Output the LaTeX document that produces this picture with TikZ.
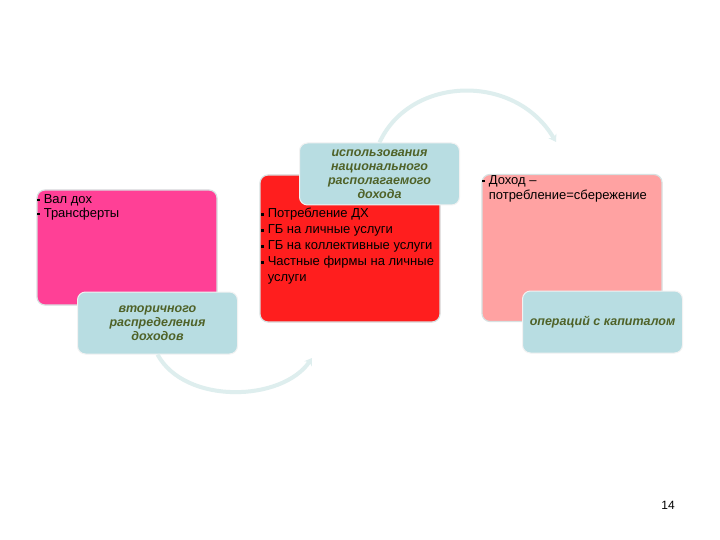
\documentclass[tikz,border=0pt]{standalone}
\usepackage{fontspec}
\setmainfont{Liberation Sans}
\usetikzlibrary{calc,positioning,arrows.meta}

\definecolor{pinkfill}{RGB}{255,64,150}
\definecolor{redfill}{RGB}{255,30,30}
\definecolor{salmonfill}{RGB}{255,162,162}
\definecolor{labelfill}{RGB}{184,221,226}
\definecolor{labeltext}{RGB}{79,98,40}
\definecolor{arcline}{RGB}{222,238,238}
\definecolor{boxedge}{RGB}{215,225,225}

\newcommand{\sqbul}{\rule[0.25ex]{2.6pt}{2.6pt}\hspace{4pt}}

\tikzset{
  bigbox/.style={rectangle,rounded corners=8pt,draw=boxedge,line width=1.2pt,
    minimum width=180pt,minimum height=147pt,inner sep=0pt},
  labelbox/.style={rectangle,rounded corners=8pt,fill=labelfill,draw=white!90!gray,
    line width=1pt,minimum width=160pt,minimum height=62pt,inner sep=2pt,
    align=center,text=labeltext,font=\fontsize{12.5}{14}\selectfont\bfseries\itshape},
  listtext/.style={anchor=north west,inner sep=0pt,align=left,
    font=\fontsize{13}{16}\selectfont},
  arcarrow/.style={draw=arcline,line width=4pt,-{Stealth[length=7pt,width=9pt]}}
}

\begin{document}
\begin{tikzpicture}[x=1pt,y=-1pt]
  \useasboundingbox[fill=white] (0,0) rectangle (720,540);

  % boxes
  \node[bigbox,fill=pinkfill,minimum height=115pt] (pink) at (127,247.5) {};
  \node[bigbox,fill=redfill] (red) at (350,248.5) {};
  \node[bigbox,fill=salmonfill] (salmon) at (572,248) {};

  % texts in boxes
  \node[listtext,font=\fontsize{13}{14}\selectfont] (pinktxt) at (37,194)
    {\sqbul Вал дох\\\sqbul Трансферты};
  \node[listtext] (redtxt) at (261,208)
    {\sqbul Потребление ДХ\\\sqbul ГБ на личные услуги\\\sqbul ГБ на коллективные услуги\\
     \sqbul Частные фирмы на личные\\\hspace{6.6pt}услуги};
  \node[listtext,font=\fontsize{13}{15}\selectfont] (salmontxt) at (482,175)
    {\sqbul Доход –\\\hspace{6.6pt}потребление=сбережение};

  % labels
  \node[labelbox] (second) at (157.5,323) {вторичного\\распределения\\доходов};
  \node[labelbox] (use) at (379.5,174) {использования\\национального\\располагаемого\\дохода};
  \node[labelbox] (capital) at (602.5,322) {операций с капиталом};

  % arcs
  \coordinate (lowend) at (312,358);
  \coordinate (upend) at (556,142);
  \draw[arcarrow] (second.south) .. controls (185,405) and (282,402) .. (lowend);
  \draw[arcarrow] (use.north) .. controls (410,76) and (515,72) .. (upend);

  \node[font=\fontsize{12}{14}\selectfont] (page) at (668,505) {14};
\end{tikzpicture}
\end{document}
